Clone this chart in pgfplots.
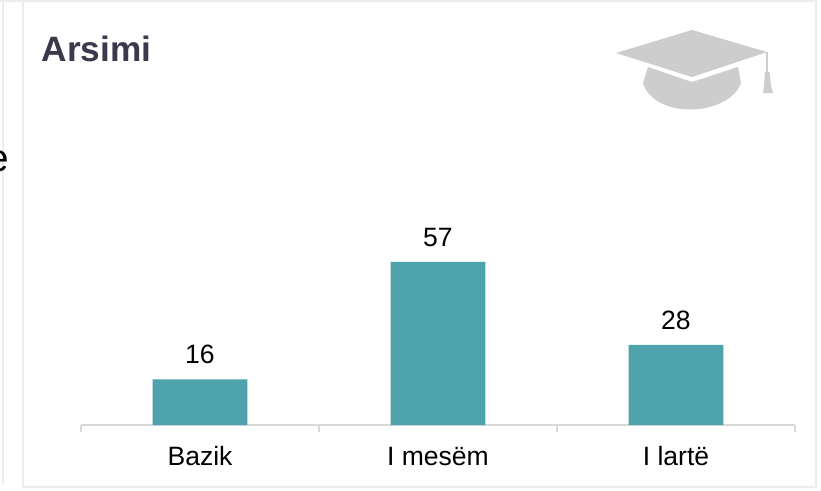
\documentclass[border=0pt]{standalone}
\usepackage{pgfplots}
\pgfplotsset{compat=1.18}
\usepackage{fontspec}
\setmainfont{Liberation Sans}
\definecolor{teal1}{HTML}{4FA3AD}
\definecolor{axisg}{HTML}{D9D9D9}
\definecolor{frameg}{HTML}{EDEDED}
\definecolor{titlec}{HTML}{3B3A4C}
\definecolor{hat}{HTML}{CDCDCD}
\begin{document}
\begin{tikzpicture}
\begin{scope}[x=0.75pt,y=-0.75pt]
\path[use as bounding box] (0,0) rectangle (821,490);
\fill[white] (0,0) rectangle (821,490);
% frames
\draw[frameg,line width=1.5pt] (2.5,0) -- (2.5,483);
\draw[frameg,line width=1.5pt] (0,1) -- (816,1) -- (816,487) -- (22.5,487) -- (22.5,1);
% clipped text from the neighbouring panel
\begin{scope}
\clip (0,0) rectangle (8.5,490);
\node[anchor=base east,inner sep=0pt,font=\fontsize{29pt}{32pt}\selectfont] at (9,171) {e};
\end{scope}
% title
\node[anchor=base west,inner sep=0pt,text=titlec,font=\bfseries\fontsize{26.4pt}{30pt}\selectfont] at (41.5,61) {Arsimi};
% hat icon
\fill[hat] (648,67) -- (692,82) -- (738,67) -- (741,83) .. controls (735,100) and (712,109.5) .. (690,109.5) .. controls (668,109.5) and (648,100) .. (643,83) -- cycle;
\fill[hat] (616,53) -- (692,30) -- (767,52) -- (692,77) -- cycle;
\fill[hat] (766,52) rectangle (768,72);
\fill[hat] (765,72) -- (769.5,72) -- (771,86) -- (773,93) -- (763,93) -- (764,86) -- cycle;
\end{scope}
\begin{axis}[
  at={(60.75pt,-318.75pt)}, anchor=south west,
  scale only axis,
  width=535.5pt, height=225pt,
  xmin=-0.5, xmax=2.5, ymin=0, ymax=104.9,
  axis x line=bottom, axis y line=none,
  axis line style={axisg,line width=0.9pt,-},
  xtick={0,1,2},
  xticklabels={Bazik,I mesëm,I lartë},
  minor xtick={-0.5,0.5,1.5,2.5},
  major tick length=0pt,
  minor tick length=5.2pt,
  tick align=outside,
  tick style={axisg,line width=0.9pt},
  xticklabel style={font=\fontsize{19.9pt}{24pt}\selectfont,text=black,text height=14.5pt,text depth=0pt,yshift=-12pt},
  /pgf/number format/assume math mode=true,
  ybar, bar width=71pt,
  nodes near coords,
  nodes near coords style={font=\fontsize{19.9pt}{24pt}\selectfont,text=black,yshift=8pt},
  clip=false,
]
\addplot[fill=teal1,draw=none] coordinates {(0,16) (1,57) (2,28)};
\end{axis}
\end{tikzpicture}
\end{document}
